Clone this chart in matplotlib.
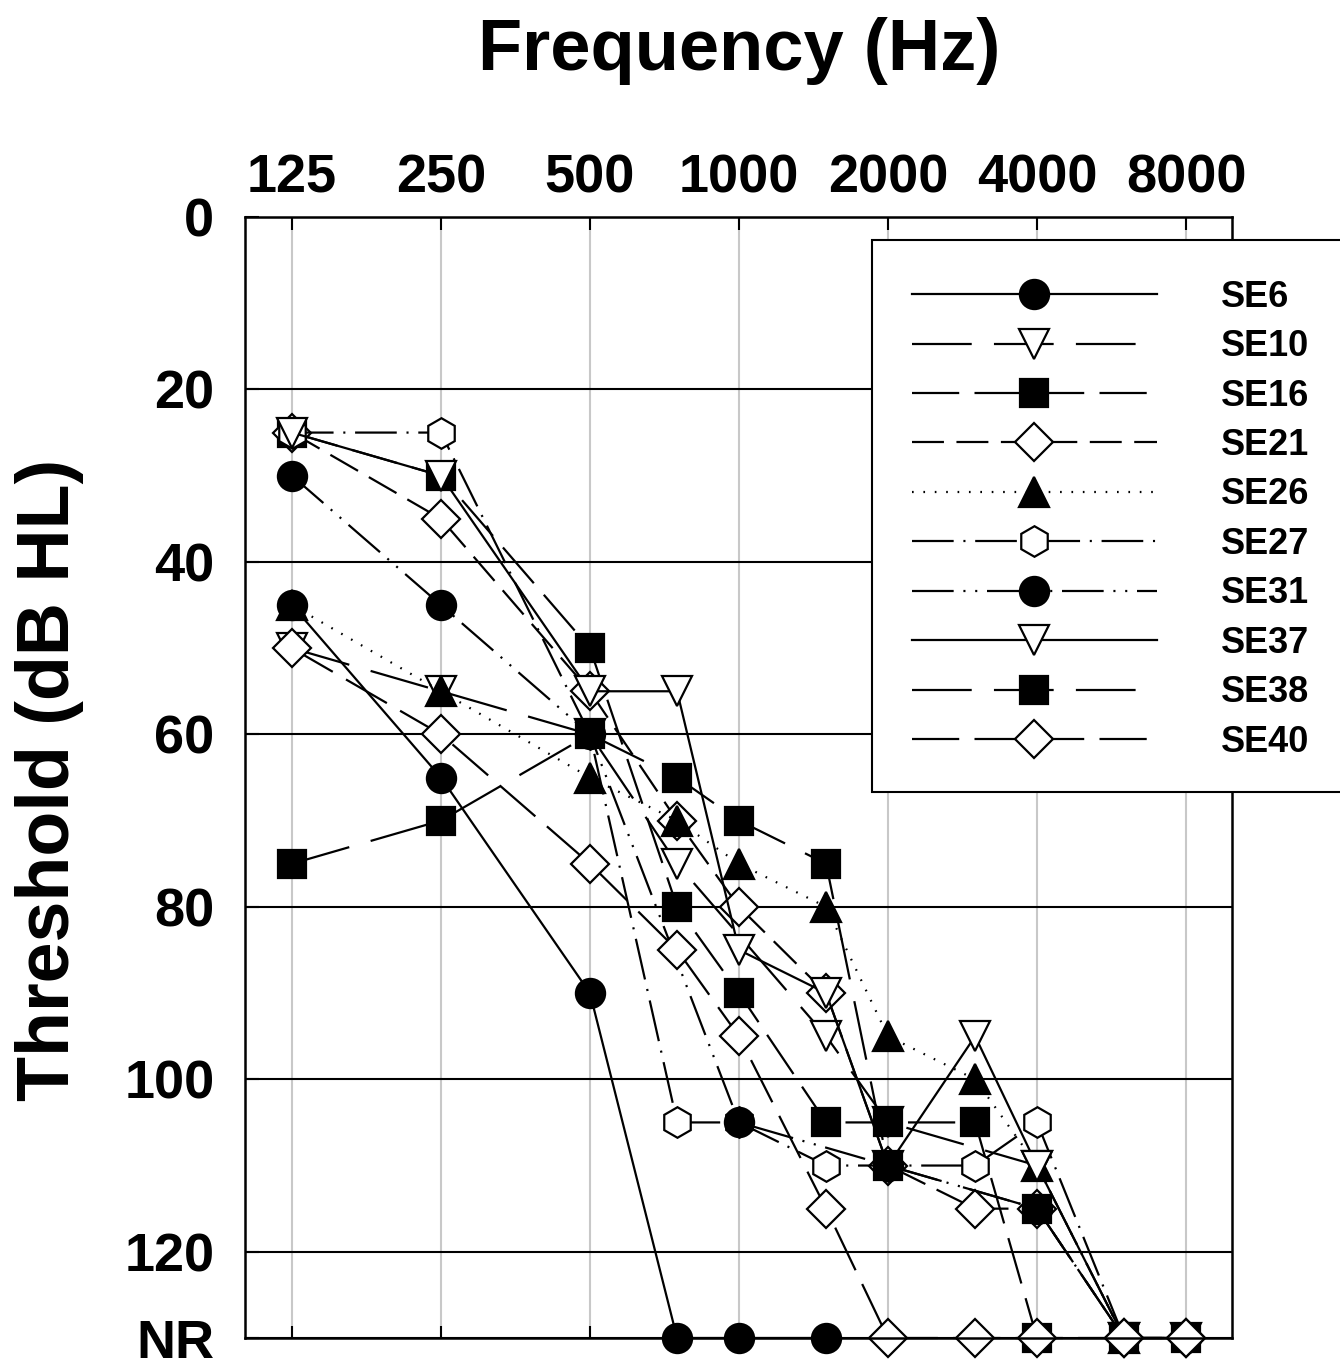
import matplotlib
matplotlib.use("Agg")
import matplotlib.pyplot as plt
from matplotlib.patches import Rectangle
from matplotlib.ticker import NullLocator

plt.rcParams["font.family"] = ["Liberation Sans", "DejaVu Sans"]
plt.rcParams["font.weight"] = "bold"
plt.rcParams["lines.scale_dashes"] = False

# audiogram thresholds (dB HL), NR = no response; None = not measured
NR = 130
freqs = [125, 250, 500, 750, 1000, 1500, 2000, 3000, 4000, 6000, 8000]
se6 = [45, 65, 90, NR, NR, NR, None, None, None, None, None]
se10 = [50, 55, 60, 75, None, 95, 105, None, 110, NR, NR]
se16 = [25, 30, 50, 80, 90, 105, 105, 105, NR, None, None]
se21 = [25, 35, 55, 70, 80, 90, 110, 115, 115, NR, NR]
se26 = [45, 55, 65, 70, 75, 80, 95, 100, 110, NR, None]
se27 = [25, 25, 60, 105, 105, 110, 110, 110, 105, NR, None]
se31 = [30, 45, 60, None, 105, None, 110, None, 115, NR, NR]
se37 = [25, 30, 55, 55, 85, 90, 110, 95, 110, NR, None]
se38 = [75, 70, 60, 65, 70, 75, 110, None, 115, NR, NR]
se40 = [50, 60, 75, 85, 95, 115, NR, NR, NR, NR, NR]

tick_freqs = [125, 250, 500, 1000, 2000, 4000, 8000]
tick_db = [0, 20, 40, 60, 80, 100, 120, NR]
tick_db_labels = ["0", "20", "40", "60", "80", "100", "120", "NR"]

# name, data, marker, face, linestyle, markersize
series = [
    ("SE6", se6, "o", "black", "-", 21),
    ("SE10", se10, "v", "white", (0, (43, 16)), 22),
    ("SE16", se16, "s", "black", (0, (34, 11)), 20),
    ("SE21", se21, "D", "white", (0, (23, 9)), 19),
    ("SE26", se26, "^", "black", (0, (1.2, 7)), 22),
    ("SE27", se27, "h", "white", (0, (30, 7, 1.5, 7)), 22),
    ("SE31", se31, "o", "black", (0, (30, 7, 1.5, 7, 1.5, 7)), 21),
    ("SE37", se37, "v", "white", "-", 22),
    ("SE38", se38, "s", "black", (0, (43, 16)), 20),
    ("SE40", se40, "D", "white", (0, (34, 11)), 19),
]

W, H = 1340, 1363
fig = plt.figure(figsize=(W / 100, H / 100), dpi=100)
ax = fig.add_axes([245 / W, 1 - 1338 / H, (1232 - 245) / W, (1338 - 217) / H])

handles = []
for name, vals, mk, face, ls, ms in series:
    xs = [f for f, v in zip(freqs, vals) if v is not None]
    ys = [v for v in vals if v is not None]
    ln, = ax.plot(xs, ys, color="black", lw=1.6, ls=ls, marker=mk, ms=ms,
                  mfc=face, mec="black", mew=1.6, clip_on=False, label=name)
    handles.append(ln)

ax.set_xscale("log", base=2)
ax.set_xlim(100.5, 9908)
ax.set_ylim(NR, 0)
ax.set_xticks(tick_freqs)
ax.set_xticklabels([str(f) for f in tick_freqs])
ax.xaxis.set_minor_locator(NullLocator())
ax.set_yticks(tick_db)
ax.set_yticklabels(tick_db_labels)

ax.tick_params(axis="x", top=True, bottom=True, labeltop=True, labelbottom=False,
               direction="in", length=9, width=1.5, pad=10, labelsize=39)
ax.tick_params(axis="y", left=True, right=False, direction="in", length=10,
               width=1.5, pad=22, labelsize=39)

ax.set_axisbelow(True)
ax.xaxis.grid(True, color="#c8c8c8", lw=1.5)
ax.yaxis.grid(True, color="black", lw=1.5)
for sp in ax.spines.values():
    sp.set_linewidth(1.8)

fig.text(739 / W, 1 - 70 / H, "Frequency (Hz)", ha="center", va="baseline",
         fontsize=52, fontweight="bold")
fig.text(50 / W, 1 - 780 / H, "Threshold (dB HL)", ha="center", va="center",
         rotation=90, fontsize=53, fontweight="bold")

# legend box runs off the right edge of the figure
fig.patches.append(Rectangle((872 / W, 1 - 792 / H), (1400 - 872) / W, (792 - 240) / H,
                             transform=fig.transFigure, facecolor="white",
                             edgecolor="black", lw=1.5, zorder=2))
fig.legend(handles, [h.get_label() for h in handles], loc="upper left",
           bbox_to_anchor=(872 / W, 1 - 240 / H), bbox_transform=fig.transFigure,
           frameon=False, borderaxespad=0, borderpad=1.1, handlelength=6.8,
           handletextpad=1.75, labelspacing=0.40, numpoints=1,
           prop={"size": 26, "weight": "bold"})

fig.savefig("out.png", dpi=100)
